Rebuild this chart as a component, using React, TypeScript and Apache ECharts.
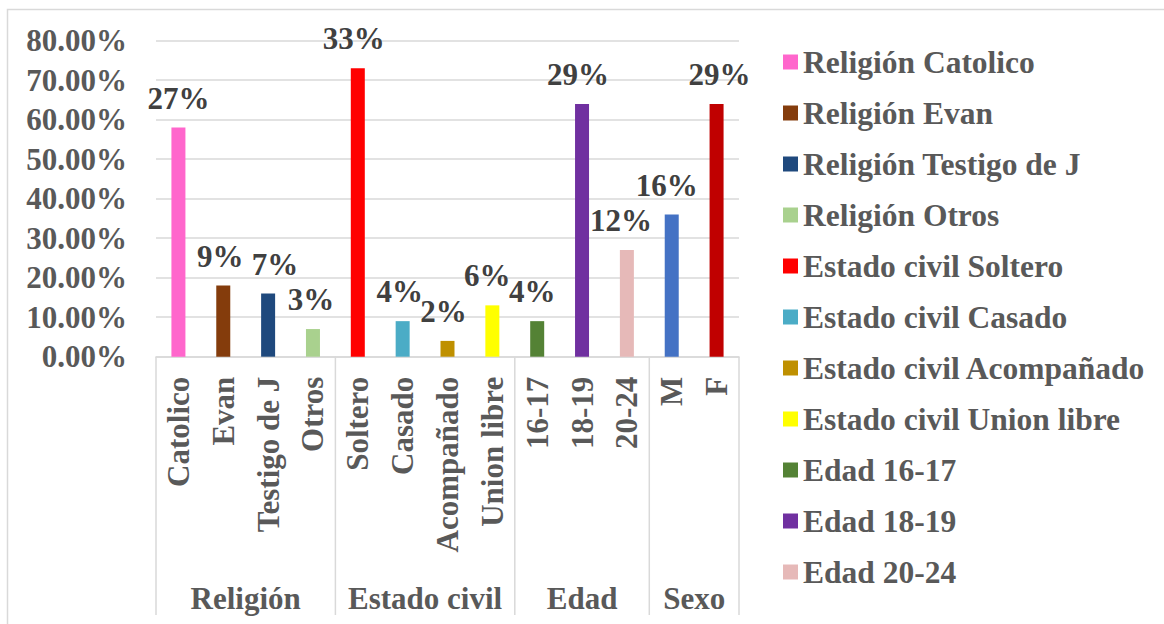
import React, { useEffect, useRef } from "react";
import * as echarts from "echarts";

const categories = ["Catolico", "Evan", "Testigo de J", "Otros", "Soltero", "Casado", "Acompañado", "Union libre", "16-17", "18-19", "20-24", "M", "F"];
const groups = ["Religión", "Religión", "Religión", "Religión", "Estado civil", "Estado civil", "Estado civil", "Estado civil", "Edad", "Edad", "Edad", "Sexo", "Sexo"];
const values = [0.58, 0.18, 0.16, 0.07, 0.73, 0.09, 0.04, 0.13, 0.09, 0.64, 0.27, 0.36, 0.64];
const valueLabels = ["27%", "9%", "7%", "3%", "33%", "4%", "2%", "6%", "4%", "29%", "12%", "16%", "29%"];
const colors = ["#FF66CC", "#843C0C", "#1F497D", "#A9D18E", "#FF0000", "#4BACC6", "#BF9000", "#FFFF00", "#548235", "#7030A0", "#E6B9B8", "#4472C4", "#C00000"];
const yTicks = [0, 0.1, 0.2, 0.3, 0.4, 0.5, 0.6, 0.7, 0.8];

// label horizontal nudges (style only)
const labelDx = [0, -3, 7, -2, -4, -3, -4, -5, -5, -4, -6, -5, 3];

const FONT = "'Liberation Serif', 'Times New Roman', serif";
const GRAY = "#595959";
const LINE = "#d9d9d9";

export default function App() {
  const ref = useRef<HTMLDivElement>(null);
  useEffect(() => {
    if (!ref.current) return;
    const chart = echarts.init(ref.current, null, { renderer: "svg" });
    const seriesNames = categories.map((c, i) => `${groups[i]} ${c}`);
    const series = categories.map((c, i) => ({
      name: seriesNames[i],
      type: "bar",
      stack: "all",
      barWidth: 14,
      itemStyle: { color: colors[i] },
      data: categories.map((_, j) => (j === i ? values[i] : "-")),
      label: {
        show: true,
        position: "top",
        distance: 14,
        offset: [labelDx[i], 0],
        fontFamily: FONT,
        fontWeight: "bold",
        fontSize: 31,
        color: "#404040",
        formatter: () => valueLabels[i],
      },
    }));
    chart.setOption({
      animation: false,
      backgroundColor: "#ffffff",
      grid: { left: 156, right: 425, top: 40.7, bottom: 267.3, containLabel: false },
      legend: {
        orient: "vertical",
        left: 778,
        top: 41,
        itemWidth: 15,
        itemHeight: 15,
        itemGap: 19,
        icon: "rect",
        data: seriesNames.slice(0, 11),
        textStyle: { fontFamily: FONT, fontWeight: "bold", fontSize: 31.5, color: GRAY, lineHeight: 32 },
      },
      xAxis: {
        type: "category",
        data: categories,
        axisLine: { lineStyle: { color: LINE, width: 1.5 } },
        axisTick: { show: false },
        axisLabel: {
          rotate: 90,
          margin: 20,
          interval: 0,
          fontFamily: FONT,
          fontWeight: "bold",
          fontSize: 31,
          color: GRAY,
        },
      },
      yAxis: {
        type: "value",
        min: 0,
        max: yTicks[yTicks.length - 1],
        interval: 0.1,
        axisLine: { show: false },
        axisTick: { show: false },
        splitLine: { lineStyle: { color: LINE, width: 1.5 } },
        axisLabel: {
          margin: 29,
          fontFamily: FONT,
          fontWeight: "bold",
          fontSize: 31,
          color: GRAY,
          formatter: (v: number) => (v * 100).toFixed(2) + "%",
        },
      },
      series,
    });

    // group labels and dividers from the category axis scale
    const px = (i: number) => chart.convertToPixel({ xAxisIndex: 0 }, categories[i]) as number;
    const axisY = chart.convertToPixel({ yAxisIndex: 0 }, 0) as number;
    const w = px(1) - px(0);
    const uniq: { name: string; start: number; end: number }[] = [];
    groups.forEach((g, i) => {
      const last = uniq[uniq.length - 1];
      if (last && last.name === g) last.end = i;
      else uniq.push({ name: g, start: i, end: i });
    });
    const elements: any[] = [
      {
        type: "rect",
        shape: { x: 7.5, y: 9.5, width: 1300, height: 800 },
        style: { fill: "none", stroke: LINE, lineWidth: 1.5 },
        silent: true,
      },
    ];
    const bounds = new Set<number>();
    uniq.forEach((g) => {
      const x0 = px(g.start) - w / 2;
      const x1 = px(g.end) + w / 2;
      bounds.add(Math.round(x0 * 10) / 10);
      bounds.add(Math.round(x1 * 10) / 10);
      elements.push({
        type: "text",
        x: (x0 + x1) / 2,
        y: 598,
        style: {
          text: g.name,
          font: `bold 31px ${FONT}`,
          fill: GRAY,
          align: "center",
          verticalAlign: "middle",
        },
      });
    });
    bounds.forEach((x) => {
      elements.push({
        type: "line",
        shape: { x1: x, y1: axisY, x2: x, y2: 615 },
        style: { stroke: LINE, lineWidth: 1.5 },
        silent: true,
      });
    });
    chart.setOption({ graphic: { elements } });

    return () => chart.dispose();
  }, []);
  return (
    <div
      ref={ref}
      style={{ position: "fixed", left: 0, top: 0, width: 1164, height: 624, background: "#fff" }}
    />
  );
}
